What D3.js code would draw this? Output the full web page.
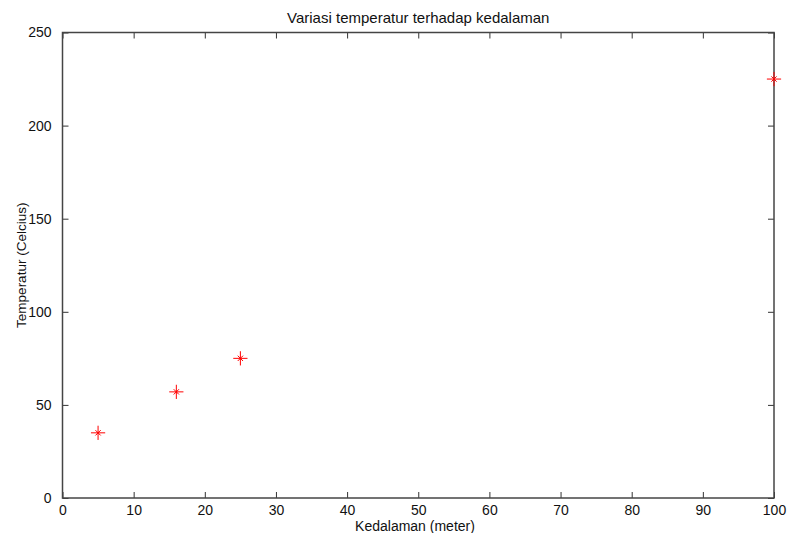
<!DOCTYPE html>
<html>
<head>
<meta charset="utf-8">
<script src="https://cdn.jsdelivr.net/npm/d3@7"></script>
<style>
  body { margin: 0; background: #fff; }
  text { font-family: "Liberation Sans", Arial, sans-serif; fill: #111; }
</style>
</head>
<body>
<svg id="chart"></svg>
<script>
// data
const depth = [5, 16, 25, 100];          // Kedalaman (meter)
const temperature = [35, 57, 75, 225];   // Temperatur (Celcius)
const xTicks = [0, 10, 20, 30, 40, 50, 60, 70, 80, 90, 100];
const yTicks = [0, 50, 100, 150, 200, 250];

const width = 788, height = 533;
const plotLeft = 62.5, plotRight = 774, plotTop = 32.5, plotBottom = 498;

let svg = d3.select("#chart")
    .attr("width", width)
    .attr("height", height);

let x = d3.scaleLinear().domain([0, 100]).range([plotLeft, plotRight]);
let y = d3.scaleLinear().domain([0, 250]).range([plotBottom, plotTop]);

const tickLen = 6;

// box with inward ticks on all four sides (matlab style)
function styleAxis(g) {
    g.select(".domain").remove();
    g.selectAll(".tick line").attr("stroke", "#333").attr("stroke-width", 1);
    g.selectAll(".tick text").attr("font-size", "14px").attr("fill", "#111");
}

svg.append("g")
    .attr("transform", `translate(0,${plotBottom})`)
    .call(d3.axisBottom(x).tickValues(xTicks).tickSizeInner(-tickLen).tickSizeOuter(0).tickPadding(7))
    .call(styleAxis);

svg.append("g")
    .attr("transform", `translate(0,${plotTop})`)
    .call(d3.axisTop(x).tickValues(xTicks).tickSizeInner(-tickLen).tickSizeOuter(0).tickFormat(""))
    .call(styleAxis);

svg.append("g")
    .attr("transform", `translate(${plotLeft},0)`)
    .call(d3.axisLeft(y).tickValues(yTicks).tickSizeInner(-tickLen).tickSizeOuter(0).tickPadding(11))
    .call(styleAxis);

svg.append("g")
    .attr("transform", `translate(${plotRight},0)`)
    .call(d3.axisRight(y).tickValues(yTicks).tickSizeInner(-tickLen).tickSizeOuter(0).tickFormat(""))
    .call(styleAxis);

svg.append("rect")
    .attr("x", plotLeft)
    .attr("y", plotTop)
    .attr("width", plotRight - plotLeft)
    .attr("height", plotBottom - plotTop)
    .attr("fill", "none")
    .attr("stroke", "#444")
    .attr("stroke-width", 1.5);

// asterisk markers = plus + times
let pts = depth.map((d, i) => ({ x: d, y: temperature[i] }));
let plus = d3.symbol().type(d3.symbolPlus).size(68);
let times = d3.symbol().type(d3.symbolTimes).size(20);

let marks = svg.append("g")
    .selectAll("g")
    .data(pts)
    .join("g")
    .attr("transform", d => `translate(${x(d.x)},${y(d.y)})`);

marks.append("path")
    .attr("d", plus)
    .attr("fill", "none")
    .attr("stroke", "#ff0000")
    .attr("stroke-width", 1);

marks.append("path")
    .attr("d", times)
    .attr("fill", "none")
    .attr("stroke", "#ff0000")
    .attr("stroke-width", 1);

// title and axis labels
svg.append("text")
    .attr("x", (plotLeft + plotRight) / 2)
    .attr("y", 22.5)
    .attr("text-anchor", "middle")
    .attr("font-size", "15px")
    .text("Variasi temperatur terhadap kedalaman");

svg.append("text")
    .attr("x", 415)
    .attr("y", 531)
    .attr("text-anchor", "middle")
    .attr("font-size", "14px")
    .text("Kedalaman (meter)");

svg.append("text")
    .attr("transform", "rotate(-90)")
    .attr("x", -(plotTop + plotBottom) / 2)
    .attr("y", 26)
    .attr("text-anchor", "middle")
    .attr("font-size", "13.5px")
    .text("Temperatur (Celcius)");
</script>
</body>
</html>
